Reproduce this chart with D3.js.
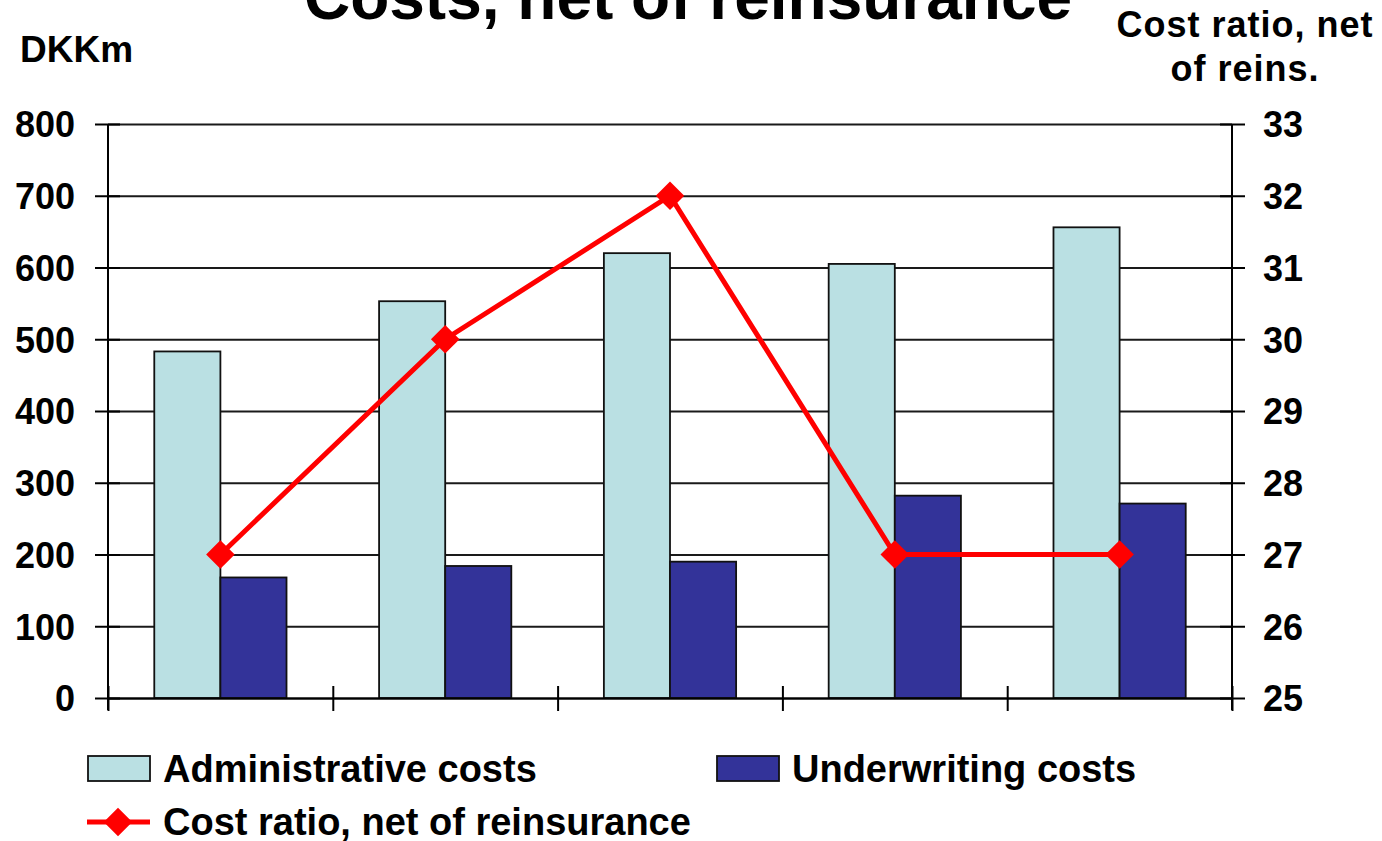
<!DOCTYPE html>
<html>
<head>
<meta charset="utf-8">
<script src="https://cdn.jsdelivr.net/npm/d3@7/dist/d3.min.js"></script>
<style>
  html, body { margin: 0; padding: 0; background: #fff; }
  svg { display: block; }
  text { font-family: "Liberation Sans", Arial, Helvetica, sans-serif; font-weight: bold; fill: #000; }
</style>
</head>
<body>
<svg id="chart" width="1382" height="841"></svg>
<script>
// Data
const periods = ["P1", "P2", "P3", "P4", "P5"];
const adminCosts = [483, 553, 620, 605, 656];
const underwritingCosts = [168, 184, 190, 282, 271];
const costRatio = [27, 30, 32, 27, 27];
const leftTicks = [0, 100, 200, 300, 400, 500, 600, 700, 800];
const rightTicks = [25, 26, 27, 28, 29, 30, 31, 32, 33];
const seriesNames = ["Administrative costs", "Underwriting costs"];
const seriesColors = ["#bae0e3", "#333399"];
const lineColor = "#ff0000";

const svg = d3.select("#chart");
const plot = { left: 108, right: 1232, top: 124, bottom: 698 };

const x = d3.scaleBand().domain(periods).range([plot.left, plot.right]).padding(0);
const xSeries = d3.scaleBand().domain(seriesNames).range([0, x.bandwidth()])
  .paddingInner(0).paddingOuter(0.7);
const yLeft = d3.scaleLinear().domain([0, 800]).range([plot.bottom, plot.top]);
const yRight = d3.scaleLinear().domain([25, 33]).range([plot.bottom, plot.top]);

// Horizontal gridlines
svg.append("g")
  .attr("transform", `translate(${plot.left},0)`)
  .call(d3.axisLeft(yLeft).tickValues(leftTicks).tickSize(-(plot.right - plot.left)).tickFormat(""))
  .call(g => g.select(".domain").remove())
  .call(g => g.selectAll(".tick line").attr("stroke", "#1a1a1a").attr("stroke-width", 1.8));

// Bars
const rows = periods.map((p, i) => ({ period: p, values: [adminCosts[i], underwritingCosts[i]] }));
const groups = svg.append("g").selectAll("g").data(rows).join("g")
  .attr("transform", d => `translate(${x(d.period)},0)`);
groups.selectAll("rect")
  .data(d => d.values.map((v, k) => ({ name: seriesNames[k], value: v, color: seriesColors[k] })))
  .join("rect")
  .attr("x", d => xSeries(d.name))
  .attr("width", xSeries.bandwidth())
  .attr("y", d => yLeft(d.value))
  .attr("height", d => yLeft(0) - yLeft(d.value))
  .attr("fill", d => d.color)
  .attr("stroke", "#111")
  .attr("stroke-width", 1.8);

// Left axis
svg.append("g")
  .attr("transform", `translate(${plot.left},0)`)
  .call(d3.axisLeft(yLeft).tickValues(leftTicks).tickSize(13).tickPadding(20).tickSizeOuter(0))
  .call(g => g.select(".domain").attr("stroke", "#000").attr("stroke-width", 2)
    .attr("d", `M0,${plot.top}V${plot.bottom + 12}`))
  .call(g => g.selectAll(".tick line").attr("x1", 12).attr("stroke", "#000").attr("stroke-width", 2))
  .call(g => g.selectAll(".tick text").attr("font-size", 36).attr("dy", "0.36em"));

// Right axis
svg.append("g")
  .attr("transform", `translate(${plot.right},0)`)
  .call(d3.axisRight(yRight).tickValues(rightTicks).tickSize(13).tickPadding(18).tickSizeOuter(0))
  .call(g => g.select(".domain").attr("stroke", "#000").attr("stroke-width", 2)
    .attr("d", `M0,${plot.top}V${plot.bottom + 12}`))
  .call(g => g.selectAll(".tick line").attr("x1", -12).attr("stroke", "#000").attr("stroke-width", 2))
  .call(g => g.selectAll(".tick text").attr("font-size", 36).attr("dy", "0.36em"));

// Bottom axis: ticks at category boundaries
const boundaries = periods.map(p => x(p)).concat([plot.right]);
svg.append("g")
  .attr("transform", `translate(0,${plot.bottom})`)
  .call(d3.axisBottom(d3.scaleLinear().domain([plot.left, plot.right]).range([plot.left, plot.right]))
    .tickValues(boundaries).tickSize(13).tickFormat("").tickSizeOuter(0))
  .call(g => g.select(".domain").attr("stroke", "#000").attr("stroke-width", 2))
  .call(g => g.selectAll(".tick line").attr("y1", -12).attr("stroke", "#000").attr("stroke-width", 2));

// Cost ratio line
const cx = i => x(periods[i]) + x.bandwidth() / 2;
svg.append("path")
  .datum(costRatio)
  .attr("fill", "none")
  .attr("stroke", lineColor)
  .attr("stroke-width", 5)
  .attr("d", d3.line().x((d, i) => cx(i)).y(d => yRight(d)));

const diamond = d3.symbol().type(d3.symbolDiamond2).size(520);
svg.append("g").selectAll("path").data(costRatio).join("path")
  .attr("transform", (d, i) => `translate(${cx(i)},${yRight(d)})`)
  .attr("d", diamond)
  .attr("fill", lineColor);

// Titles
svg.append("text").attr("x", 688).attr("y", 19).attr("text-anchor", "middle")
  .attr("font-size", 64).text("Costs, net of reinsurance");
svg.append("text").attr("x", 20).attr("y", 62).attr("font-size", 37).text("DKKm");
svg.append("text").attr("x", 1245).attr("y", 37).attr("text-anchor", "middle")
  .attr("font-size", 36).attr("letter-spacing", 1).text("Cost ratio, net");
svg.append("text").attr("x", 1245).attr("y", 81).attr("text-anchor", "middle")
  .attr("font-size", 36).attr("letter-spacing", 1).text("of reins.");

// Legend
const legend = svg.append("g");
const legendItems = [
  { name: seriesNames[0], color: seriesColors[0], x: 88, y: 756 },
  { name: seriesNames[1], color: seriesColors[1], x: 717, y: 756 }
];
legendItems.forEach(it => {
  legend.append("rect").attr("x", it.x).attr("y", it.y).attr("width", 62).attr("height", 25)
    .attr("fill", it.color).attr("stroke", "#111").attr("stroke-width", 1.8);
  legend.append("text").attr("x", it.x + 75).attr("y", it.y + 26).attr("font-size", 38).text(it.name);
});
legend.append("line").attr("x1", 87).attr("x2", 150).attr("y1", 822).attr("y2", 822)
  .attr("stroke", lineColor).attr("stroke-width", 5);
legend.append("path").attr("transform", "translate(118,822)").attr("d", diamond).attr("fill", lineColor);
legend.append("text").attr("x", 163).attr("y", 835).attr("font-size", 38).text("Cost ratio, net of reinsurance");
</script>
</body>
</html>
